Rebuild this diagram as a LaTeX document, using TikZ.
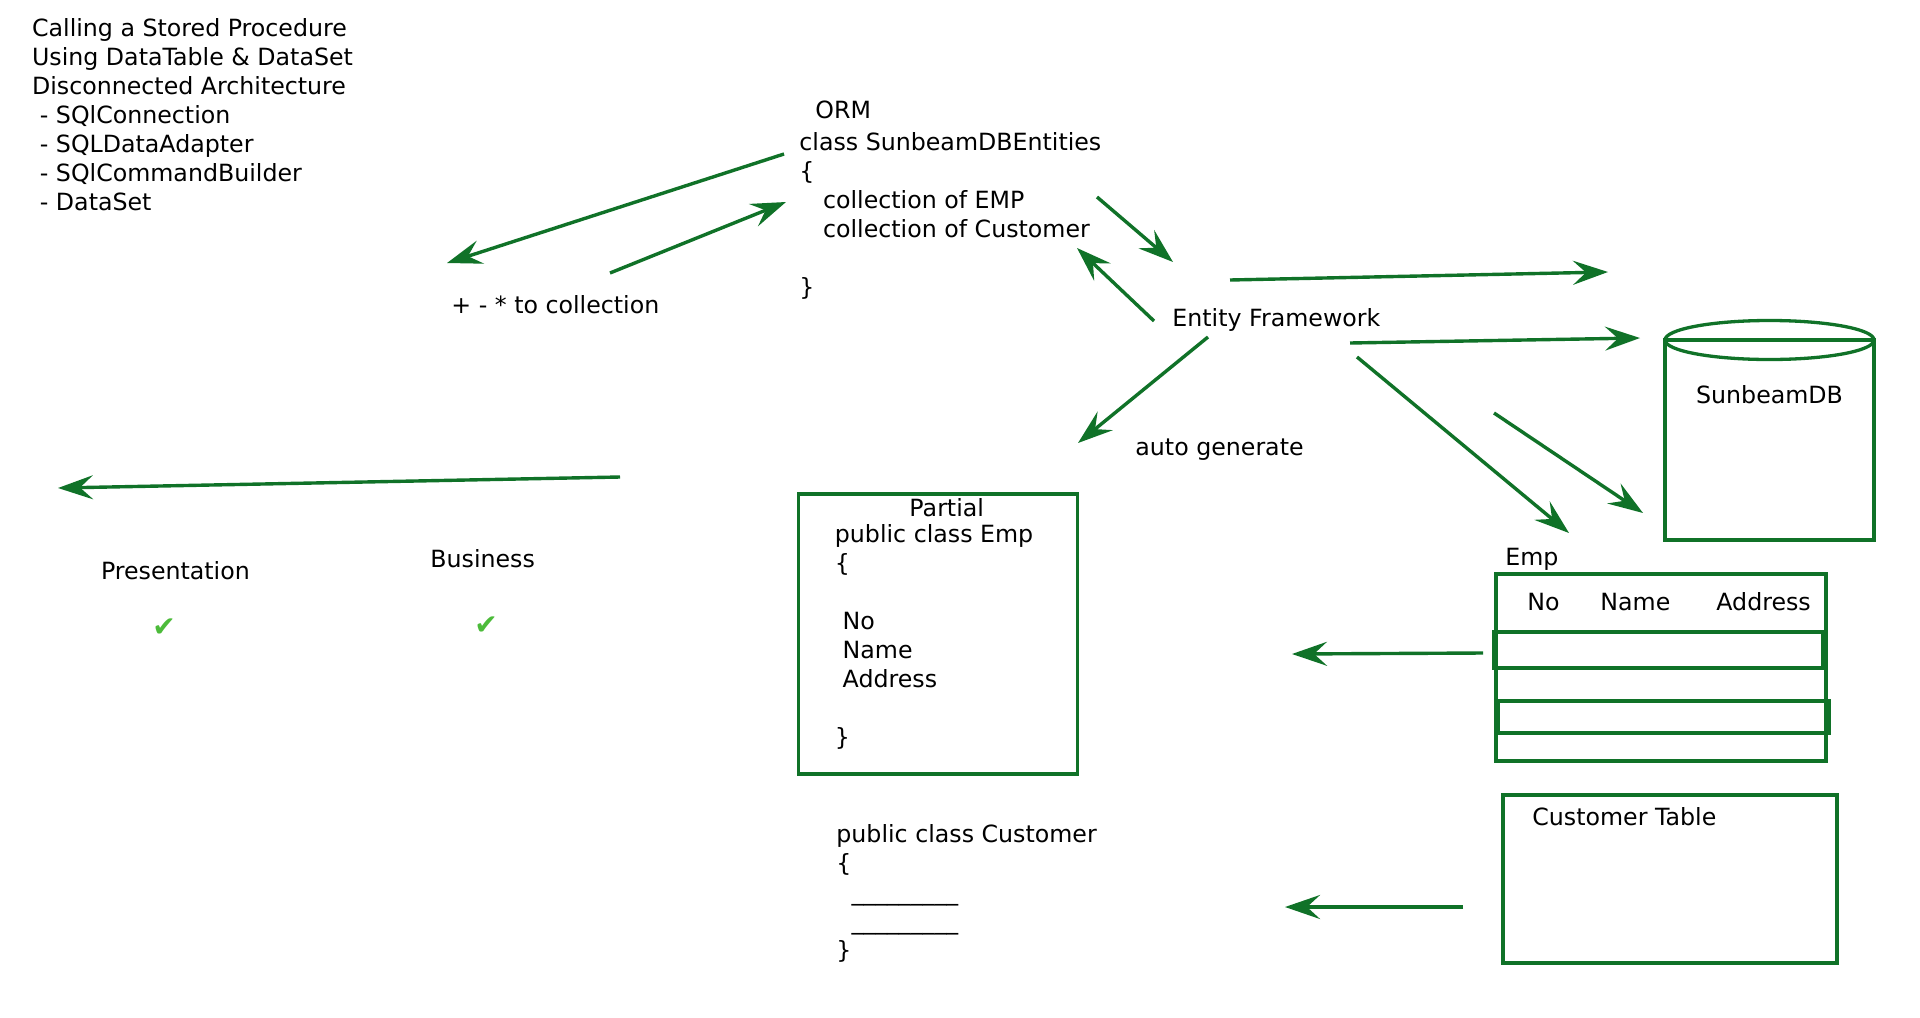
\documentclass[tikz,border=0pt]{standalone}
\usepackage{fontspec}
\setmainfont{DejaVu Sans}
\usetikzlibrary{arrows.meta}
\definecolor{eg}{RGB}{16,114,40}
\definecolor{ck}{RGB}{76,187,58}
\begin{document}
\begin{tikzpicture}[x=0.5pt,y=-0.5pt,
  txt/.style={inner sep=0pt, anchor=base west, font=\fontsize{11.85pt}{14.5pt}\selectfont},
  blk/.style={inner sep=0pt, anchor=north west, align=left, font=\fontsize{11.85pt}{14.5pt}\selectfont},
  arr/.style={draw=eg, line width=1.7pt, -{Stealth[length=17.5pt,width=12pt,inset=6.5pt]}},
  box/.style={draw=eg, line width=1.65pt},
  tick/.style={inner sep=0pt, text=ck, font=\fontsize{14pt}{16pt}\selectfont}
]
\useasboundingbox[fill=white] (0,0) rectangle (1920,1017);

% title block
\node[blk] (title) at (31.7,15.6) {\strut Calling a Stored Procedure\\
Using DataTable \& DataSet\\
Disconnected Architecture\\
\hspace*{0.33em}- SQlConnection\\
\hspace*{0.33em}- SQLDataAdapter\\
\hspace*{0.33em}- SQlCommandBuilder\\
\hspace*{0.33em}- DataSet};

% ORM block
\node[txt] (orm) at (815,118.3) {ORM};
\node[blk] (ent) at (799,130.2) {\strut class SunbeamDBEntities\\
\{\\
\hspace*{1em}collection of EMP\\
\hspace*{1em}collection of Customer\\
\mbox{}\\
\}};

\node[txt] (ops) at (451,313.7) {+ - * to collection};
\node[txt] (ef) at (1172,326) {Entity Framework};
\node[txt] (auto) at (1135,455.3) {auto generate};
\node[txt] (pres) at (100.6,579.7) {Presentation};
\node[txt] (bus) at (430,567.5) {Business};
\node[tick] (tick1) at (164,628) {✔};
\node[tick] (tick2) at (486,625.5) {✔};

% Partial class box
\draw[box] (798.3,494) rectangle (1077.7,774);
\node[txt, anchor=base] (partial) at (946.7,516) {Partial};
\node[blk] (empcls) at (834.5,522) {\strut public class Emp\\
\{\\
\mbox{}\\
\hspace*{0.33em}No\\
\hspace*{0.33em}Name\\
\hspace*{0.33em}Address\\
\mbox{}\\
\}};

% Customer class
\node[blk] (custcls) at (836,822.2) {\strut public class Customer\\
\{\\
\hspace*{0.64em}\_\_\_\_\_\_\_\_\_\\
\hspace*{0.64em}\_\_\_\_\_\_\_\_\_\\
\}};

% database cylinder
\draw[box] (1665,340) -- (1665,540) -- (1874,540) -- (1874,340) -- cycle;
\draw[box] (1769.5,340) ellipse [x radius=52.25pt, y radius=9.75pt];
\node[txt, anchor=base] (db) at (1769.5,403.7) {SunbeamDB};

% Emp table
\node[txt] (emplbl) at (1505,565.3) {Emp};
\draw[box] (1496,574) rectangle (1826,761);
\draw[box] (1494,632) rectangle (1823,668);
\draw[box] (1498,701) rectangle (1829,733);
\node[txt] (hno) at (1527,610.3) {No};
\node[txt] (hname) at (1600,610.3) {Name};
\node[txt] (haddr) at (1716,610.3) {Address};

% Customer table
\draw[box] (1503,795) rectangle (1837,963);
\node[txt] (custtbl) at (1532,825.5) {Customer Table};

% connector end points
\coordinate (a1s) at (784,154);   \coordinate (a1e) at (447,263);
\coordinate (a2s) at (610,273);   \coordinate (a2e) at (786,202);
\coordinate (a3s) at (1097,197);  \coordinate (a3e) at (1173,262);
\coordinate (a4s) at (1154,321);  \coordinate (a4e) at (1077,248);
\coordinate (a5s) at (1208,337);  \coordinate (a5e) at (1078,443);
\coordinate (a6s) at (1230,280);  \coordinate (a6e) at (1608,272);
\coordinate (a7s) at (1350,343);  \coordinate (a7e) at (1640,338);
\coordinate (a8s) at (1357,357);  \coordinate (a8e) at (1569,533);
\coordinate (a9s) at (1494,413);  \coordinate (a9e) at (1643,513);
\coordinate (a10s) at (620,477);  \coordinate (a10e) at (58,488);
\coordinate (a11s) at (1483,653); \coordinate (a11e) at (1292,654);
\coordinate (a12s) at (1463,907); \coordinate (a12e) at (1285,907);

\draw[arr] (a1s) -- (a1e);
\draw[arr] (a2s) -- (a2e);
\draw[arr] (a3s) -- (a3e);
\draw[arr] (a4s) -- (a4e);
\draw[arr] (a5s) -- (a5e);
\draw[arr] (a6s) -- (a6e);
\draw[arr] (a7s) -- (a7e);
\draw[arr] (a8s) -- (a8e);
\draw[arr] (a9s) -- (a9e);
\draw[arr] (a10s) -- (a10e);
\draw[arr] (a11s) -- (a11e);
\draw[arr] (a12s) -- (a12e);
\end{tikzpicture}
\end{document}
